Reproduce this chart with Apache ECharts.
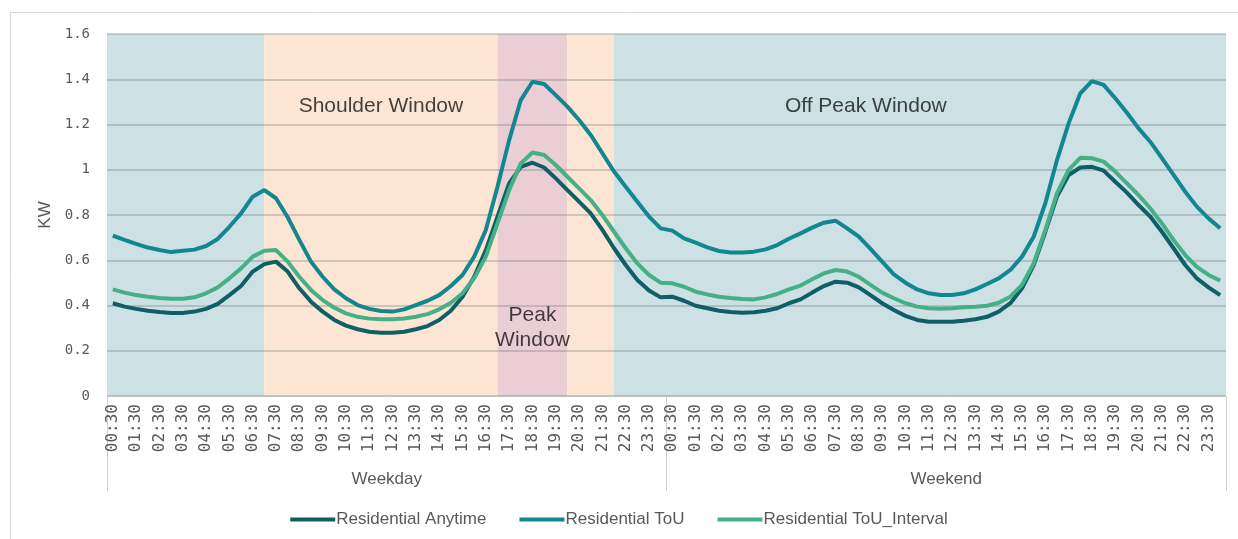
<!DOCTYPE html>
<html>
<head>
<meta charset="utf-8">
<script src="https://cdn.jsdelivr.net/npm/echarts@6/dist/echarts.min.js"></script>
<style>
  html, body { margin: 0; padding: 0; background: #fff; }
  #main { width: 1238px; height: 539px; }
</style>
</head>
<body>
<div id="main"></div>
<script>
// half-hour slots of one day
var times = ['00:30','01:00','01:30','02:00','02:30','03:00','03:30','04:00','04:30','05:00','05:30','06:00',
             '06:30','07:00','07:30','08:00','08:30','09:00','09:30','10:00','10:30','11:00','11:30','12:00',
             '12:30','13:00','13:30','14:00','14:30','15:00','15:30','16:00','16:30','17:00','17:30','18:00',
             '18:30','19:00','19:30','20:00','20:30','21:00','21:30','22:00','22:30','23:00','23:30','00:00'];
var dayTypes = ['Weekday', 'Weekend'];
var categories = times.concat(times);

var anytime = [
    0.410, 0.395, 0.385, 0.377, 0.371, 0.367, 0.367, 0.373, 0.385, 0.407, 0.446, 0.486,
    0.550, 0.583, 0.594, 0.550, 0.476, 0.417, 0.373, 0.336, 0.311, 0.295, 0.284, 0.280,
    0.280, 0.284, 0.295, 0.309, 0.336, 0.377, 0.439, 0.527, 0.645, 0.793, 0.940, 1.013,
    1.031, 1.010, 0.962, 0.910, 0.859, 0.807, 0.734, 0.653, 0.579, 0.513, 0.466, 0.436,
    0.439, 0.421, 0.399, 0.388, 0.377, 0.371, 0.368, 0.370, 0.377, 0.388, 0.410, 0.427,
    0.457, 0.486, 0.505, 0.501, 0.480, 0.446, 0.410, 0.380, 0.354, 0.336, 0.328, 0.328,
    0.328, 0.333, 0.339, 0.350, 0.373, 0.410, 0.476, 0.579, 0.726, 0.881, 0.977, 1.010,
    1.013, 0.996, 0.947, 0.899, 0.844, 0.793, 0.726, 0.653, 0.579, 0.520, 0.480, 0.446
];
var tou = [
    0.709, 0.690, 0.672, 0.656, 0.645, 0.636, 0.642, 0.647, 0.663, 0.694, 0.748, 0.807,
    0.881, 0.910, 0.874, 0.790, 0.690, 0.594, 0.527, 0.471, 0.432, 0.402, 0.385, 0.376,
    0.373, 0.383, 0.402, 0.421, 0.446, 0.486, 0.535, 0.616, 0.734, 0.925, 1.131, 1.308,
    1.389, 1.379, 1.330, 1.279, 1.220, 1.154, 1.073, 0.992, 0.925, 0.859, 0.793, 0.741,
    0.731, 0.697, 0.678, 0.657, 0.641, 0.634, 0.634, 0.638, 0.648, 0.667, 0.695, 0.719,
    0.744, 0.766, 0.775, 0.741, 0.704, 0.650, 0.594, 0.538, 0.501, 0.471, 0.454, 0.446,
    0.446, 0.454, 0.471, 0.495, 0.520, 0.557, 0.616, 0.704, 0.852, 1.043, 1.205, 1.338,
    1.392, 1.375, 1.316, 1.252, 1.183, 1.124, 1.051, 0.977, 0.903, 0.837, 0.785, 0.741
];
var touInterval = [
    0.471, 0.457, 0.446, 0.439, 0.433, 0.430, 0.430, 0.436, 0.454, 0.480, 0.520, 0.564,
    0.616, 0.642, 0.645, 0.594, 0.527, 0.469, 0.424, 0.390, 0.365, 0.350, 0.342, 0.339,
    0.339, 0.343, 0.350, 0.362, 0.383, 0.412, 0.454, 0.520, 0.616, 0.763, 0.910, 1.028,
    1.076, 1.065, 1.021, 0.969, 0.918, 0.866, 0.800, 0.726, 0.653, 0.586, 0.535, 0.501,
    0.498, 0.483, 0.461, 0.449, 0.439, 0.433, 0.429, 0.427, 0.436, 0.451, 0.471, 0.488,
    0.516, 0.542, 0.557, 0.550, 0.527, 0.491, 0.457, 0.432, 0.410, 0.395, 0.388, 0.386,
    0.388, 0.392, 0.395, 0.399, 0.412, 0.439, 0.491, 0.586, 0.734, 0.896, 0.999, 1.053,
    1.051, 1.036, 0.992, 0.940, 0.888, 0.830, 0.763, 0.690, 0.623, 0.571, 0.535, 0.510
];

// tariff windows (weekday times where they change)
var windowEdges = ['07:00', '17:00', '20:00', '22:00'];
var windowKinds = ['off', 'shoulder', 'peak', 'shoulder', 'off'];

window.onload = function() {
    var chart = echarts.init(document.getElementById('main')),
        option;

    var fillFor = { off: '#cde0e3', shoulder: '#fde5d3', peak: '#ebcdd6' };
    var edges = [0].concat(windowEdges.map(function(t) { return times.indexOf(t) + 0.5; }), [categories.length]);
    var windows = windowKinds.map(function(k, i) { return [edges[i], edges[i + 1], i]; });

    var labelFont = "'Liberation Sans', Arial, sans-serif";
    var tickFont = "'DejaVu Sans Mono', monospace";

    option = {
        animation: false,
        textStyle: { fontFamily: labelFont },
        graphic: [{
            type: 'rect',
            shape: { x: 10.5, y: 12.5, width: 1240, height: 540 },
            style: { fill: 'none', stroke: '#d9d9d9', lineWidth: 1 },
            silent: true
        }],
        grid: { left: 107, right: 12, top: 34, bottom: 143 },
        legend: {
            bottom: 6,
            left: 'center',
            icon: 'rect',
            itemWidth: 45,
            itemGap: 33,
            itemHeight: 4,
            textStyle: { fontSize: 17, color: '#595959', padding: [0, 0, 0, -4] },
            data: ['Residential Anytime', 'Residential ToU', 'Residential ToU_Interval']
        },
        xAxis: [{
            type: 'category',
            data: categories,
            axisLine: { lineStyle: { color: '#bfbfbf' } },
            axisTick: { show: false },
            axisLabel: {
                interval: 1,
                rotate: 90,
                margin: 8,
                fontFamily: tickFont,
                fontSize: 16,
                color: '#595959'
            }
        }, {
            type: 'category',
            data: dayTypes,
            position: 'bottom',
            offset: 95,
            axisLine: { show: false },
            axisTick: { show: true, inside: true, length: 95, lineStyle: { color: '#d0d0d0' } },
            axisLabel: { inside: true, margin: 3, fontSize: 17, color: '#595959' }
        }, {
            type: 'value',
            min: 0,
            max: categories.length,
            show: false
        }],
        yAxis: {
            type: 'value',
            min: 0,
            max: 1.6,
            interval: 0.2,
            name: 'KW',
            nameLocation: 'middle',
            nameGap: 49,
            nameTextStyle: { fontSize: 17, color: '#595959' },
            axisLine: { show: false },
            axisTick: { show: false },
            axisLabel: { margin: 17, fontFamily: tickFont, fontSize: 14, color: '#595959' },
            splitLine: { lineStyle: { color: 'rgba(90,100,105,0.35)', width: 1.5 } }
        },
        series: [{
            type: 'custom',
            xAxisIndex: 2,
            z: -1,
            silent: true,
            data: windows,
            renderItem: function(params, api) {
                var p0 = api.coord([api.value(0), 1.6]);
                var p1 = api.coord([api.value(1), 0]);
                return {
                    type: 'rect',
                    shape: { x: p0[0], y: p0[1], width: p1[0] - p0[0], height: p1[1] - p0[1] },
                    style: { fill: fillFor[windowKinds[api.value(2)]] }
                };
            }
        }, {
            type: 'scatter',
            xAxisIndex: 2,
            symbolSize: 0,
            silent: true,
            z: 3,
            label: {
                show: true,
                position: 'inside',
                formatter: function(p) { return p.name; },
                fontSize: 21,
                lineHeight: 25,
                color: '#141414'
            },
            data: [
                { name: 'Shoulder Window', value: [(edges[1] + edges[2]) / 2, 1.28] },
                { name: 'Peak\nWindow', value: [(edges[2] + edges[3]) / 2, 0.3] },
                { name: 'Off Peak Window', value: [65.1, 1.28] }
            ]
        }, {
            name: 'Residential Anytime',
            type: 'line',
            data: anytime,
            showSymbol: false,
            color: '#0e5f66',
            lineStyle: { width: 4 }
        }, {
            name: 'Residential ToU',
            type: 'line',
            data: tou,
            showSymbol: false,
            color: '#13878f',
            lineStyle: { width: 4 }
        }, {
            name: 'Residential ToU_Interval',
            type: 'line',
            data: touInterval,
            showSymbol: false,
            color: '#45b086',
            lineStyle: { width: 4 }
        }]
    };

    chart.setOption(option);
};
</script>
</body>
</html>
